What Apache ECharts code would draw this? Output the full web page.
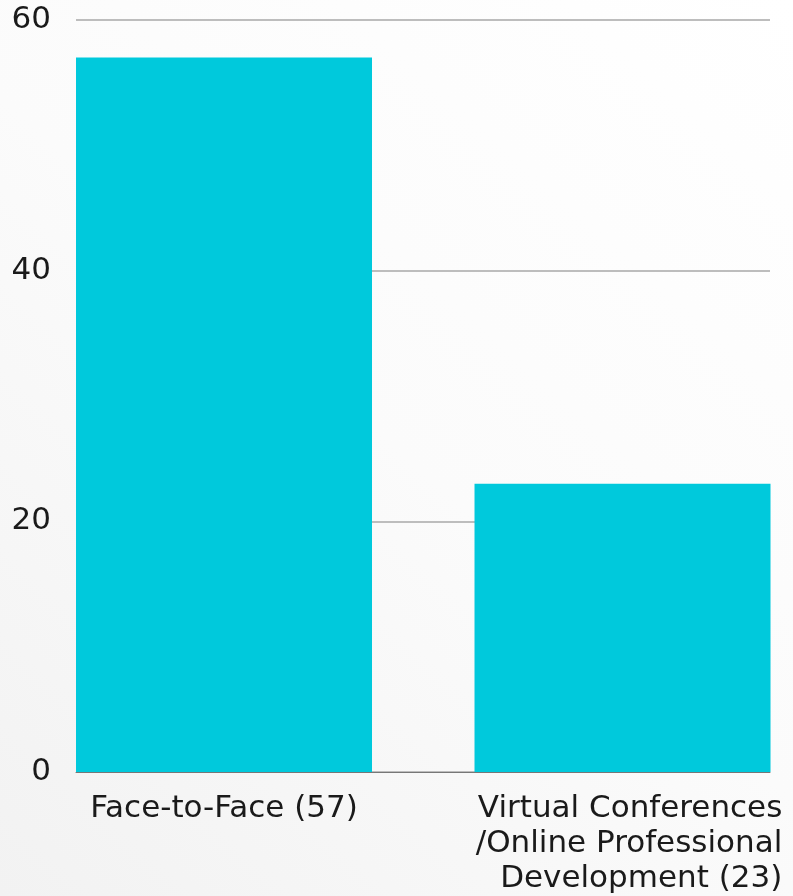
<!DOCTYPE html>
<html>
<head>
<meta charset="utf-8">
<script src="https://cdn.jsdelivr.net/npm/echarts@6/dist/echarts.min.js"></script>
<style>
html,body{margin:0;padding:0;}
#chart{width:793px;height:896px;}
</style>
</head>
<body>
<div id="chart"></div>
<script>
var categories = ['Face-to-Face (57)', 'Virtual Conferences\n/Online Professional\nDevelopment (23)'];
var positions = [0, 1];
var values = [57, 23];
var yTicks = [0, 20, 40, 60];

var FONT = '"DejaVu Sans", sans-serif';
var chart = echarts.init(document.getElementById('chart'));
chart.setOption({
  animation: false,
  backgroundColor: {
    type: 'linear', x: 1, y: 0, x2: 0, y2: 1,
    colorStops: [{offset: 0, color: '#ffffff'}, {offset: 0.5, color: '#fbfbfb'}, {offset: 1, color: '#f2f2f2'}]
  },
  grid: {left: 76, right: 23, top: 20, bottom: 124, containLabel: false},
  xAxis: {
    type: 'value',
    min: -0.3714,
    max: 1.3701,
    splitLine: {show: false},
    axisTick: {show: false},
    axisLine: {show: true, onZero: false, lineStyle: {color: '#777777', width: 1}},
    axisLabel: {
      customValues: positions,
      margin: 19,
      formatter: function (v) {
        var idx = positions.indexOf(v);
        if (idx < 0) return '';
        if (idx === 0) return '{a|' + categories[0] + '}';
        return categories[idx].split('\n').map(function (s) { return '{b|' + s + '}'; }).join('\n');
      },
      rich: {
        a: {fontFamily: FONT, fontSize: 31, lineHeight: 35, color: '#1a1a1a'},
        b: {fontFamily: FONT, fontSize: 31, lineHeight: 35, color: '#1a1a1a', align: 'right', padding: [0, 0, 0, 13]}
      }
    }
  },
  yAxis: {
    type: 'value',
    min: yTicks[0],
    max: yTicks[yTicks.length - 1],
    interval: 20,
    axisLine: {show: false},
    axisTick: {show: false},
    splitLine: {show: true, lineStyle: {color: '#bdbdbd', width: 2}},
    axisLabel: {fontFamily: FONT, fontSize: 31, color: '#1a1a1a', margin: 25}
  },
  series: [{
    type: 'bar',
    barWidth: 296,
    itemStyle: {color: '#00C9DC'},
    data: positions.map(function (p, i) { return [p, values[i]]; })
  }]
});
</script>
</body>
</html>
